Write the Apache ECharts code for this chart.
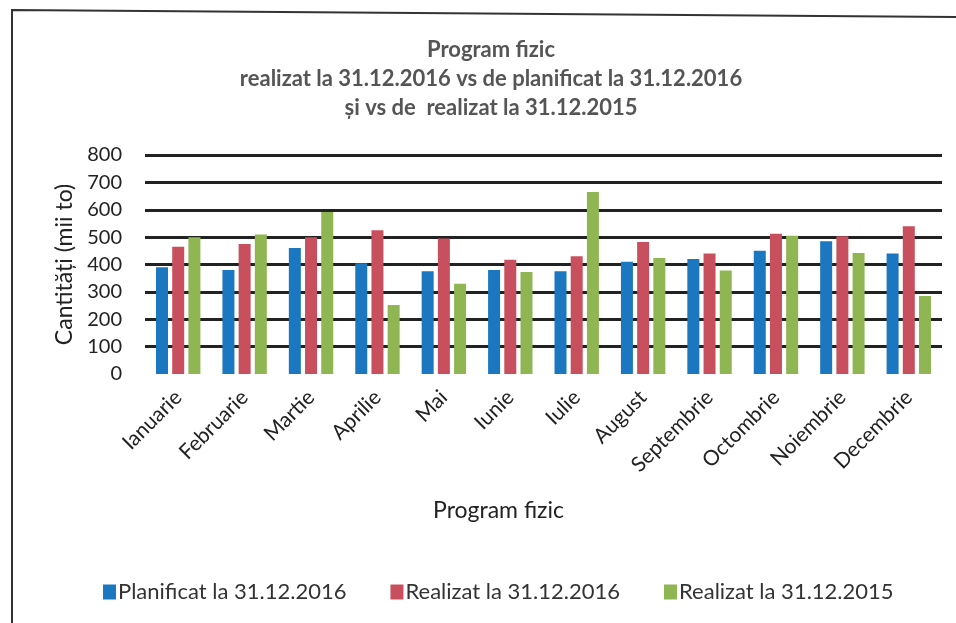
<!DOCTYPE html>
<html style="height: 100%">
<head>
    <meta charset="utf-8">
</head>
<body style="height: 100%; margin: 0; background: #fff">
<div id="container" style="width: 956px; height: 623px;"></div>

<script type="text/javascript" src="https://cdn.jsdelivr.net/npm/echarts@6/dist/echarts.min.js"></script>
<script type="text/javascript">
    // luni
    var months = ['Ianuarie', 'Februarie', 'Martie', 'Aprilie', 'Mai', 'Iunie',
        'Iulie', 'August', 'Septembrie', 'Octombrie', 'Noiembrie', 'Decembrie'];

    // cantitati (mii to)
    var planificat2016 = [390, 380, 460, 405, 375, 380, 375, 410, 420, 450, 485, 440];
    var realizat2016 = [465, 475, 500, 525, 495, 417, 430, 482, 440, 512, 503, 540];
    var realizat2015 = [500, 510, 592, 252, 330, 373, 665, 424, 378, 505, 442, 285];

    var seriesNames = ['Planificat la 31.12.2016', 'Realizat la 31.12.2016', 'Realizat la 31.12.2015'];
    var colors = ['#1b77c0', '#c8505e', '#8fb653'];

    var dom = document.getElementById("container");
    var myChart = echarts.init(dom);
    var font = 'Lato, "Open Sans", sans-serif';

    var option = {
        animation: false,
        color: colors,
        textStyle: { fontFamily: font },
        title: {
            text: 'Program fizic\nrealizat la 31.12.2016 vs de planificat la 31.12.2016\nși vs de  realizat la 31.12.2015',
            left: 486,
            top: 30,
            textAlign: 'center',
            textStyle: {
                fontFamily: font,
                fontSize: 22,
                fontWeight: 'bold',
                color: '#555',
                lineHeight: 29
            }
        },
        legend: {
            data: seriesNames,
            top: 576,
            left: 98,
            itemGap: 44,
            itemWidth: 13,
            itemHeight: 15,
            icon: 'rect',
            textStyle: { fontFamily: font, fontSize: 22, color: '#333', padding: [0, 0, 0, -3] }
        },
        grid: {
            left: 145,
            right: 14,
            top: 155,
            bottom: 249
        },
        xAxis: {
            type: 'category',
            data: months,
            name: 'Program fizic',
            nameLocation: 'middle',
            nameGap: 125,
            nameTextStyle: { fontFamily: font, fontSize: 23, color: '#222', padding: [0, 90, 0, 0] },
            axisLine: { show: false },
            axisTick: { show: false },
            axisLabel: {
                rotate: 45,
                margin: 20,
                fontSize: 21,
                color: '#222',
                interval: 0
            }
        },
        yAxis: {
            type: 'value',
            min: 0,
            max: 800,
            interval: 100,
            name: 'Cantități (mii to)',
            nameLocation: 'middle',
            nameGap: 44,
            nameTextStyle: { fontFamily: font, fontSize: 23, color: '#222' },
            axisLine: { show: false },
            axisTick: { show: false },
            axisLabel: { fontSize: 20, color: '#222', margin: 23 },
            splitLine: {
                lineStyle: {
                    color: ['transparent', '#222', '#222', '#222', '#222', '#222', '#222', '#222', '#222'],
                    width: 3
                }
            }
        },
        graphic: [{
            type: 'polyline',
            shape: { points: [[12, 623], [12, 10], [956, 17]] },
            style: { stroke: '#333', lineWidth: 2, fill: null }
        }],
        series: [
            { name: seriesNames[0], type: 'bar', data: planificat2016, barWidth: 12, barGap: '35%' },
            { name: seriesNames[1], type: 'bar', data: realizat2016, barWidth: 12, barGap: '35%' },
            { name: seriesNames[2], type: 'bar', data: realizat2015, barWidth: 12, barGap: '35%' }
        ]
    };

    myChart.setOption(option);
</script>
</body>
</html>
